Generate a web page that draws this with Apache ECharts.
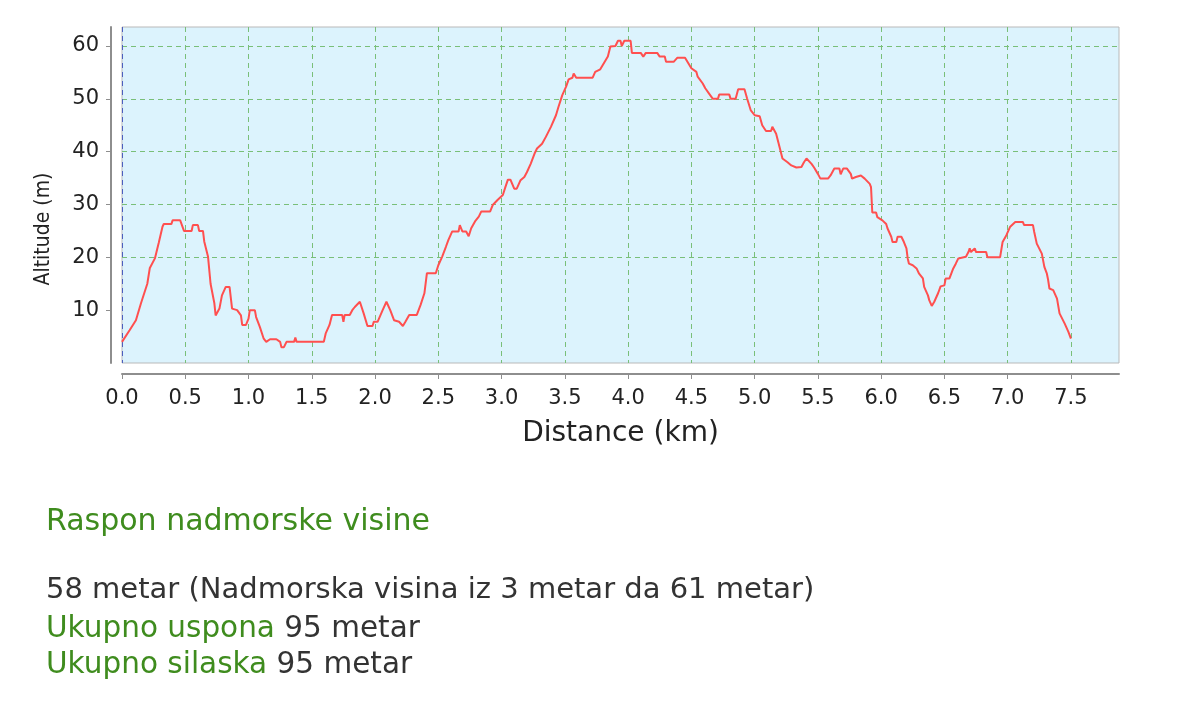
<!DOCTYPE html>
<html>
<head>
<meta charset="utf-8">
<script src="https://cdn.jsdelivr.net/npm/echarts@6/dist/echarts.min.js"></script>
<style>
  html, body { margin: 0; padding: 0; background: #fff; }
  #chart { position: absolute; left: 0; top: 0; width: 1181px; height: 715px; }
  .info { position: absolute; left: 46px; font-family: "DejaVu Sans", sans-serif; font-size: 29.5px; line-height: 1; color: #333; white-space: nowrap; }
  .g { color: #3f8c1e; }
</style>
</head>
<body>
<div id="chart"></div>
<div class="info g" style="top: 505px; font-size: 30px;">Raspon nadmorske visine</div>
<div class="info" style="top: 574px; font-size: 29px;">58 metar (Nadmorska visina iz 3 metar da 61 metar)</div>
<div class="info" style="top: 613px;"><span class="g">Ukupno uspona</span> 95 metar</div>
<div class="info" style="top: 649px;"><span class="g">Ukupno silaska</span> 95 metar</div>

<script>
// profile, distance in km / altitude in m
const distance = [
  0, 0.06, 0.11, 0.15, 0.2, 0.22, 0.26, 0.29, 0.32, 0.33, 0.39, 0.4, 0.46, 0.49, 0.55, 0.56, 0.6, 0.61, 0.64, 0.65,
  0.68, 0.7, 0.73, 0.74, 0.77, 0.79, 0.82, 0.83, 0.85, 0.87, 0.91, 0.94, 0.95, 0.98, 1.0, 1.01, 1.05, 1.06, 1.09, 1.12,
  1.14, 1.17, 1.22, 1.25, 1.26, 1.28, 1.3, 1.36, 1.37, 1.38, 1.595, 1.61, 1.64, 1.66, 1.74, 1.75, 1.76, 1.8, 1.82, 1.84,
  1.88, 1.91, 1.94, 1.98, 1.99, 2.02, 2.06, 2.09, 2.12, 2.15, 2.19, 2.22, 2.24, 2.27, 2.33, 2.36, 2.39, 2.41, 2.48, 2.5,
  2.53, 2.56, 2.58, 2.61, 2.66, 2.67, 2.69, 2.72, 2.74, 2.76, 2.79, 2.82, 2.84, 2.91, 2.93, 2.97, 3.01, 3.03, 3.05, 3.07,
  3.1, 3.12, 3.15, 3.18, 3.2, 3.23, 3.26, 3.28, 3.32, 3.35, 3.39, 3.43, 3.45, 3.48, 3.51, 3.53, 3.56, 3.57, 3.59, 3.72,
  3.74, 3.78, 3.8, 3.84, 3.86, 3.9, 3.92, 3.94, 3.95, 3.97, 4.02, 4.03, 4.1, 4.12, 4.14, 4.23, 4.25, 4.29, 4.3, 4.36,
  4.39, 4.45, 4.5, 4.54, 4.55, 4.59, 4.61, 4.64, 4.67, 4.71, 4.72, 4.8, 4.81, 4.85, 4.87, 4.92, 4.94, 4.97, 5.0, 5.04,
  5.06, 5.09, 5.13, 5.14, 5.17, 5.2, 5.22, 5.26, 5.29, 5.33, 5.37, 5.39, 5.41, 5.45, 5.47, 5.5, 5.52, 5.58, 5.6, 5.63,
  5.67, 5.68, 5.7, 5.73, 5.76, 5.77, 5.8, 5.81, 5.84, 5.87, 5.91, 5.92, 5.93, 5.96, 5.97, 6.01, 6.04, 6.05, 6.08, 6.09,
  6.12, 6.13, 6.16, 6.18, 6.2, 6.21, 6.22, 6.25, 6.28, 6.3, 6.33, 6.34, 6.37, 6.38, 6.4, 6.41, 6.42, 6.45, 6.47, 6.5,
  6.51, 6.54, 6.57, 6.59, 6.61, 6.67, 6.69, 6.7, 6.71, 6.74, 6.75, 6.83, 6.84, 6.94, 6.96, 6.99, 7.02, 7.06, 7.12, 7.13,
  7.2, 7.21, 7.23, 7.27, 7.29, 7.31, 7.32, 7.33, 7.36, 7.39, 7.41, 7.45, 7.48, 7.5
];
const altitude = [
  4, 6.2, 8.1, 11.3, 15, 18, 19.8, 22.7, 25.8, 26.3, 26.3, 27, 27, 25, 25, 26.1, 26.1, 25, 25, 23,
  20.1, 15, 11.3, 9, 10.3, 12.8, 14.4, 14.7, 14.4, 10.3, 10, 9, 7.2, 7.2, 8.4, 10, 10, 8.7, 6.8, 4.6,
  4, 4.5, 4.5, 4, 3, 3, 4, 4, 4.8, 4, 4, 5.6, 7.2, 9.1, 9.1, 7.8, 9.1, 9.1, 10, 10.6,
  11.6, 9.4, 7, 7, 7.8, 7.8, 10, 11.6, 10, 8.1, 7.8, 7, 7.8, 9.1, 9.1, 11, 13.2, 17, 17, 18.5,
  20.1, 22, 23.3, 24.9, 24.9, 26.1, 24.9, 24.9, 24, 25.5, 26.8, 27.7, 28.7, 28.7, 29.9, 30.9, 31.8, 33.3, 34.7, 34.7,
  33, 33, 34.6, 35.2, 36.1, 37.7, 39.6, 40.6, 41.5, 42.8, 44.7, 46.9, 48.5, 50.7, 52.3, 53.7, 54, 54.8, 54, 54,
  55.1, 55.6, 56.4, 58, 59.9, 60, 61, 61, 60, 61, 61, 58.7, 58.7, 58, 58.7, 58.7, 58, 58, 57, 57,
  57.8, 57.8, 55.8, 55.1, 54.2, 52.9, 52, 51, 50, 50, 50.8, 50.8, 50, 50, 51.8, 51.8, 50.1, 47.8, 46.9, 46.7,
  45, 43.9, 43.9, 44.7, 43.4, 40.6, 38.7, 38, 37.4, 37, 37.1, 38, 38.7, 37.7, 37, 35.8, 34.9, 34.9, 35.5, 36.8,
  36.8, 35.7, 36.8, 36.8, 35.8, 34.9, 35.2, 34.9, 35.5, 34.9, 33.9, 33.3, 28.5, 28.5, 27.6, 27, 26.3, 25.5, 23.9, 22.9,
  22.9, 23.9, 23.9, 22.9, 21.7, 19.8, 18.8, 18.5, 17.9, 16.9, 16, 14.4, 12.8, 11.9, 10.8, 10.6, 11.6, 13.2, 14.5, 14.7,
  16, 16, 17.9, 18.8, 19.8, 20.1, 21, 21.7, 21, 21.7, 21, 21, 20, 20, 22.9, 24.2, 25.8, 26.7, 26.7, 26.1,
  26.1, 24.8, 22.6, 20.7, 18.2, 16.9, 15.7, 14.1, 13.8, 12.2, 9.4, 7.5, 5.9, 4.6
];
const xTicks = [0, 0.5, 1, 1.5, 2, 2.5, 3, 3.5, 4, 4.5, 5, 5.5, 6, 6.5, 7, 7.5];
const yTicks = [10, 20, 30, 40, 50, 60];

const gridGreen = "#79bf79";
const axisGrey = "#8e8e8e";

var chart = echarts.init(document.getElementById("chart"), null, { renderer: "canvas" });

// split line colours cycle per tick: first x line is the blue zero marker, edge lines hidden
var xSplitColors = ["#4d5fbf"];
for (var i = 1; i < xTicks.length; i++) xSplitColors.push(gridGreen);
xSplitColors.push("rgba(0,0,0,0)");
var ySplitColors = ["rgba(0,0,0,0)"];
for (var j = 0; j < yTicks.length; j++) ySplitColors.push(gridGreen);
ySplitColors.push("rgba(0,0,0,0)");

chart.setOption({
  animation: false,
  grid: {
    left: 122,
    right: 62,
    top: 27,
    bottom: 352,
    show: true,
    backgroundColor: "#dcf3fd",
    borderColor: "#b9b9b9",
    borderWidth: 1,
  },
  xAxis: {
    type: "value",
    position: "bottom",
    min: 0,
    max: 7.88,
    interval: 0.5,
    offset: 11,
    name: "Distance (km)",
    nameLocation: "middle",
    nameGap: 46,
    nameTextStyle: { fontFamily: "DejaVu Sans", fontSize: 28, color: "#222" },
    axisLine: { show: true, onZero: false, lineStyle: { color: axisGrey, width: 2 } },
    axisTick: { show: true, length: 5, customValues: xTicks, lineStyle: { color: axisGrey, width: 1 } },
    axisLabel: {
      customValues: xTicks,
      margin: 14,
      fontFamily: "DejaVu Sans",
      fontSize: 21,
      color: "#222",
      formatter: function (v) {
        return v.toFixed(1);
      },
    },
    splitLine: { show: true, lineStyle: { color: xSplitColors, type: [5, 4], width: 1 } },
  },
  yAxis: {
    type: "value",
    position: "left",
    min: 0,
    max: 63.6,
    interval: 10,
    offset: 11,
    name: "Altitude (m)",
    nameLocation: "middle",
    nameRotate: 90,
    nameGap: 57,
    nameTextStyle: {
      fontFamily: "DejaVu Sans Condensed",
      fontSize: 21,
      color: "#222",
      padding: [0, 68, 0, 0],
    },
    axisLine: { show: true, onZero: false, lineStyle: { color: axisGrey, width: 2 } },
    axisTick: { show: true, length: 5, customValues: yTicks, lineStyle: { color: axisGrey, width: 1 } },
    axisLabel: {
      customValues: yTicks,
      margin: 12,
      fontFamily: "DejaVu Sans",
      fontSize: 21,
      color: "#222",
    },
    splitLine: { show: true, lineStyle: { color: ySplitColors, type: [5, 4], width: 1 } },
  },
  series: [
    {
      name: "Altitude",
      type: "line",
      data: distance.map(function (d, k) {
        return [d, altitude[k]];
      }),
      showSymbol: false,
      lineStyle: { color: "#ff4f4f", width: 2 },
      silent: true,
    },
  ],
});
</script>
</body>
</html>
